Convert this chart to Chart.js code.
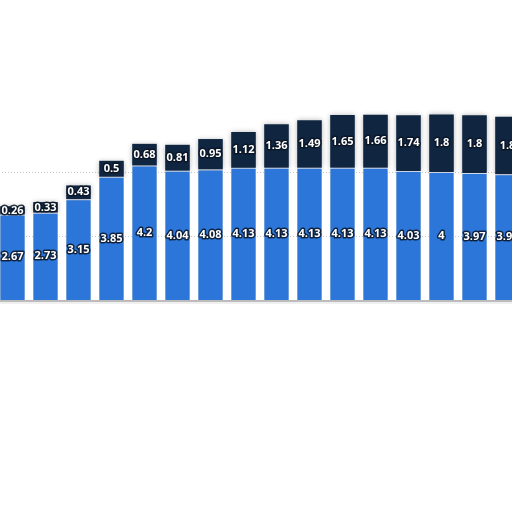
<!DOCTYPE html>
<html>
<head>
<meta charset="utf-8">
<script src="https://cdn.jsdelivr.net/npm/chart.js@4/dist/chart.umd.min.js"></script>
<style>
  html, body { margin: 0; padding: 0; background: #ffffff; overflow: hidden; }
  #wrap { position: absolute; left: -4px; top: 0; width: 528px; height: 512px; }
</style>
</head>
<body>
<div id="wrap"><canvas id="c"></canvas></div>
<script>
const categories = ['1','2','3','4','5','6','7','8','9','10','11','12','13','14','15','16'];
const lowerValues = [2.67, 2.73, 3.15, 3.85, 4.2, 4.04, 4.08, 4.13, 4.13, 4.13, 4.13, 4.13, 4.03, 4, 3.97, 3.93];
const upperValues = [0.26, 0.33, 0.43, 0.5, 0.68, 0.81, 0.95, 1.12, 1.36, 1.49, 1.65, 1.66, 1.74, 1.8, 1.8, 1.8];
const gridValues = [2, 4];

const blue = '#2b76d8';
const navy = '#0f2540';

const gridPlugin = {
  id: 'gridPlugin',
  beforeDatasetsDraw(chart) {
    const ctx = chart.ctx, y = chart.scales.y, area = chart.chartArea;
    ctx.save();
    ctx.strokeStyle = '#c8c8c8';
    ctx.lineWidth = 1;
    ctx.setLineDash([1, 2]);
    gridValues.forEach(v => {
      const py = Math.round(y.getPixelForValue(v)) + 0.5;
      ctx.beginPath(); ctx.moveTo(area.left, py); ctx.lineTo(area.right, py); ctx.stroke();
    });
    ctx.restore();
    ctx.save();
    ctx.shadowColor = 'rgba(0,0,0,0.28)';
    ctx.shadowBlur = 5;
  },
  afterDatasetsDraw(chart) {
    const ctx = chart.ctx, y = chart.scales.y, area = chart.chartArea;
    ctx.restore();
    // baseline
    const py = y.getPixelForValue(0);
    ctx.save();
    ctx.fillStyle = '#bcbcbc';
    ctx.fillRect(area.left, py, area.right - area.left, 2);
    ctx.fillStyle = 'rgba(0,0,0,0.06)';
    ctx.fillRect(area.left, py + 2, area.right - area.left, 2);
    ctx.restore();
    // labels
    ctx.save();
    ctx.font = 'bold 11px "Open Sans", "DejaVu Sans", sans-serif';
    ctx.textAlign = 'center';
    ctx.textBaseline = 'middle';
    ctx.lineJoin = 'round';
    chart.data.datasets.forEach((ds, di) => {
      const meta = chart.getDatasetMeta(di);
      meta.data.forEach((bar, i) => {
        const cy = (bar.y + bar.base) / 2;
        const txt = String(ds.data[i]);
        ctx.strokeStyle = 'rgba(10,20,35,0.85)';
        ctx.lineWidth = 3;
        ctx.strokeText(txt, bar.x, cy);
        ctx.fillStyle = '#ffffff';
        ctx.fillText(txt, bar.x, cy);
      });
    });
    ctx.restore();
  }
};

new Chart(document.getElementById('c'), {
  type: 'bar',
  data: {
    labels: categories,
    datasets: [
      { label: 'lower', data: lowerValues, backgroundColor: blue,
        borderColor: '#e8f0ff', borderWidth: { top: 1, left: 0, right: 0, bottom: 0 }, borderSkipped: 'bottom' },
      { label: 'upper', data: upperValues, backgroundColor: navy, borderWidth: 0 }
    ]
  },
  options: {
    responsive: true,
    maintainAspectRatio: false,
    animation: false,
    devicePixelRatio: 1,
    layout: { padding: 0 },
    datasets: { bar: { barPercentage: 1, categoryPercentage: 0.745 } },
    plugins: { legend: { display: false }, tooltip: { enabled: false } },
    scales: {
      x: { display: false, stacked: true },
      y: { display: false, stacked: true, min: -6.625, max: 9.375 }
    }
  },
  plugins: [gridPlugin]
});
</script>
</body>
</html>
